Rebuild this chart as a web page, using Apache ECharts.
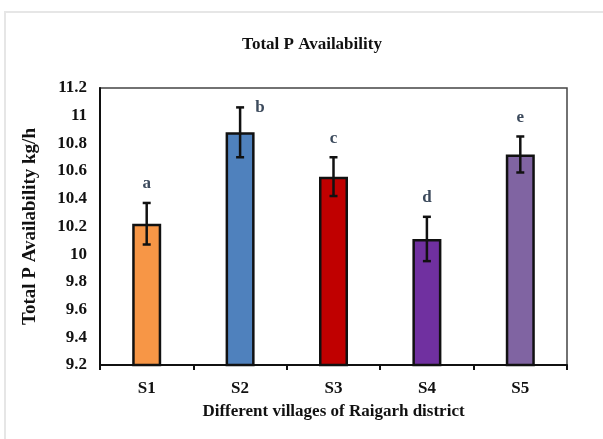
<!DOCTYPE html>
<html>
<head>
<meta charset="utf-8">
<script src="https://cdn.jsdelivr.net/npm/echarts@6/dist/echarts.min.js"></script>
<style>
  html, body { margin: 0; padding: 0; background: #fff; }
  #chart { width: 603px; height: 439px; }
</style>
</head>
<body>
<div id="chart"></div>
<script>
// Village sites sampled
const sites = ['S1', 'S2', 'S3', 'S4', 'S5'];
// Mean total P availability (kg/h)
const meanP = [10.22, 10.88, 10.56, 10.11, 10.72];
// Standard error of each mean
const errP = [0.15, 0.18, 0.14, 0.16, 0.13];
// Significance letters
const groupLetters = ['a', 'b', 'c', 'd', 'e'];
// Y-axis tick range
const yMin = 9.2, yMax = 11.2, yStep = 0.2;

const barColors = ['#f79646', '#4f81bd', '#c00000', '#7030a0', '#8064a2'];
const letterShiftX = [0, 20, 0, 0, 0];
const serif = '"Liberation Serif", "DejaVu Serif", serif';

const chart = echarts.init(document.getElementById('chart'));

chart.setOption({
  animation: false,
  backgroundColor: '#fff',
  title: {
    text: 'Total P Availability',
    left: 307, top: 31, textAlign: 'center',
    textStyle: { fontFamily: serif, fontWeight: 'bold', fontSize: 17, color: '#111' }
  },
  graphic: [{
    type: 'rect', silent: true,
    shape: { x: 5, y: 12, width: 640, height: 480 },
    style: { fill: 'none', stroke: '#e6e6e6', lineWidth: 2 }
  }],
  grid: {
    left: 100, right: 36, top: 88, bottom: 74,
    show: true, borderColor: '#444', borderWidth: 1.5
  },
  xAxis: {
    type: 'category', data: sites,
    name: 'Different villages of Raigarh district',
    nameLocation: 'middle', nameGap: 38,
    nameTextStyle: { fontFamily: serif, fontWeight: 'bold', fontSize: 17, color: '#111' },
    axisLine: { lineStyle: { color: '#111', width: 2 } },
    axisTick: { show: true, length: 5, lineStyle: { color: '#111', width: 2 } },
    axisLabel: { fontFamily: serif, fontWeight: 'bold', fontSize: 17, color: '#111', margin: 15 }
  },
  yAxis: {
    type: 'value', min: yMin, max: yMax, interval: yStep,
    name: 'Total P Availability kg/h',
    nameLocation: 'middle', nameGap: 60,
    nameTextStyle: { fontFamily: serif, fontWeight: 'bold', fontSize: 19, color: '#111' },
    splitLine: { show: false },
    axisLine: { show: true, lineStyle: { color: '#111', width: 2 } },
    axisTick: { show: false },
    axisLabel: {
      fontFamily: serif, fontWeight: 'bold', fontSize: 17, color: '#111', margin: 13,
      formatter: v => String(Math.round(v * 10) / 10)
    }
  },
  series: [
    {
      type: 'bar', barWidth: 29,
      data: meanP.map((v, i) => ({ value: v, itemStyle: { color: barColors[i] } })),
      itemStyle: { borderColor: '#111', borderWidth: 2.5 },
      z: 2
    },
    {
      type: 'custom', z: 5,
      data: meanP.map((v, i) => [i, v, errP[i]]),
      renderItem: function (params, api) {
        const i = api.value(0);
        const hi = api.coord([i, api.value(1) + api.value(2)]);
        const lo = api.coord([i, api.value(1) - api.value(2)]);
        const cap = 4;
        const s = { stroke: '#111', lineWidth: 2.5 };
        return {
          type: 'group',
          children: [
            { type: 'line', shape: { x1: hi[0], y1: hi[1], x2: lo[0], y2: lo[1] }, style: s },
            { type: 'line', shape: { x1: hi[0] - cap, y1: hi[1], x2: hi[0] + cap, y2: hi[1] }, style: s },
            { type: 'line', shape: { x1: lo[0] - cap, y1: lo[1], x2: lo[0] + cap, y2: lo[1] }, style: s },
            {
              type: 'text',
              style: {
                x: hi[0] + letterShiftX[i], y: hi[1] - (letterShiftX[i] ? 0 : 19),
                text: groupLetters[i], textAlign: 'center', textVerticalAlign: 'middle',
                font: 'bold 17px ' + serif, fill: '#3c4a5c'
              }
            }
          ]
        };
      }
    }
  ]
});
</script>
</body>
</html>
